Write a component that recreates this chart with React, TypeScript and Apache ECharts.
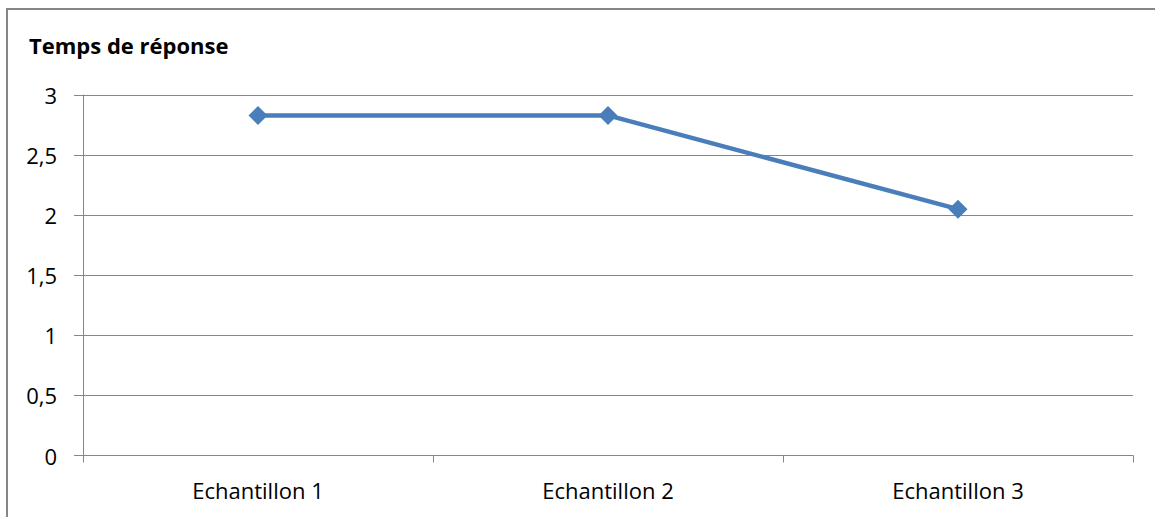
import React, { useEffect, useRef } from "react";
import * as echarts from "echarts";

const categories = ["Echantillon 1", "Echantillon 2", "Echantillon 3"];
const values = [2.83, 2.83, 2.05];
const title = "Temps de réponse";

export default function App() {
  const ref = useRef<HTMLDivElement>(null);
  useEffect(() => {
    const chart = echarts.init(ref.current!, null, { renderer: "svg" });
    const font = "'Open Sans', 'Liberation Sans', sans-serif";
    chart.setOption({
      animation: false,
      backgroundColor: "#ffffff",
      graphic: [
        {
          type: "rect",
          shape: { x: 7, y: 9, width: 1170, height: 530 },
          style: { fill: "none", stroke: "#868686", lineWidth: 2 },
          silent: true,
        },
      ],
      title: {
        text: title,
        left: 24,
        top: 29,
        textStyle: { fontFamily: font, fontWeight: "bold", fontSize: 22, color: "#000" },
      },
      grid: { left: 83, right: 22, top: 95, bottom: 61.5 },
      xAxis: {
        type: "category",
        data: categories,
        boundaryGap: true,
        axisLine: { show: true, lineStyle: { color: "#868686", width: 1 } },
        axisTick: { show: true, length: 7, lineStyle: { color: "#868686" }, alignWithLabel: false },
        axisLabel: { color: "#000", fontFamily: font, fontSize: 22, margin: 23 },
      },
      yAxis: {
        type: "value",
        min: 0,
        max: 3,
        interval: 0.5,
        axisLine: { show: true, lineStyle: { color: "#868686", width: 1 } },
        axisTick: { show: true, length: 9, lineStyle: { color: "#868686" } },
        axisLabel: {
          color: "#000",
          fontFamily: font,
          fontSize: 22,
          margin: 26,
          formatter: (v: number) => String(v).replace(".", ","),
        },
        splitLine: { show: true, lineStyle: { color: "#868686", width: 1 } },
      },
      series: [
        {
          type: "line",
          data: values,
          symbol: "diamond",
          symbolSize: 19,
          lineStyle: { color: "#4a7ebb", width: 4.5 },
          itemStyle: { color: "#4a7ebb" },
        },
      ],
    });
    return () => chart.dispose();
  }, []);
  return (
    <div
      ref={ref}
      style={{ position: "absolute", left: 0, top: 0, width: 1155, height: 517 }}
    />
  );
}
